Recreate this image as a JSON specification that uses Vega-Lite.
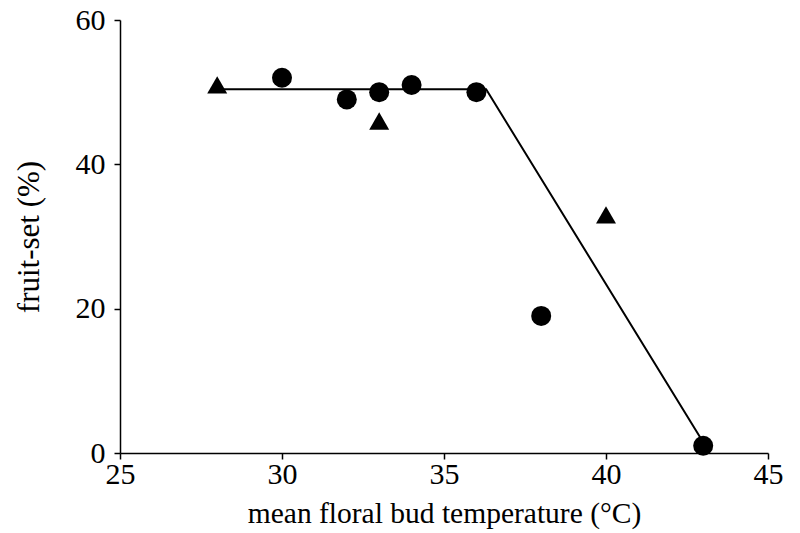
{
  "$schema": "https://vega.github.io/schema/vega-lite/v6.json",
  "width": 648,
  "height": 433,
  "autosize": {"type": "none"},
  "padding": {"left": 120, "top": 20, "right": 32, "bottom": 80},
  "background": "white",
  "config": {
    "view": {"stroke": null},
    "font": "Liberation Serif",
    "axis": {
      "grid": false,
      "domainColor": "black",
      "domainWidth": 1.5,
      "tickColor": "black",
      "tickWidth": 1.5,
      "tickSize": 6,
      "labelColor": "black",
      "labelFont": "Liberation Serif",
      "labelFontSize": 30,
      "labelFlush": false,
      "titleFont": "Liberation Serif",
      "titleFontSize": 29.5,
      "titleFontWeight": "normal",
      "titleColor": "black"
    }
  },
  "datasets": {
    "points": [
      {"temp": 28, "fruitset": 51, "group": "triangle"},
      {"temp": 30, "fruitset": 52, "group": "circle"},
      {"temp": 32, "fruitset": 49, "group": "circle"},
      {"temp": 33, "fruitset": 50, "group": "circle"},
      {"temp": 33, "fruitset": 46, "group": "triangle"},
      {"temp": 34, "fruitset": 51, "group": "circle"},
      {"temp": 36, "fruitset": 50, "group": "circle"},
      {"temp": 38, "fruitset": 19, "group": "circle"},
      {"temp": 40, "fruitset": 33, "group": "triangle"},
      {"temp": 43, "fruitset": 1, "group": "circle"}
    ],
    "fit": [
      {"temp": 28, "fruitset": 50.4},
      {"temp": 36.3, "fruitset": 50.4},
      {"temp": 43, "fruitset": 1.5}
    ]
  },
  "layer": [
    {
      "data": {"name": "fit"},
      "mark": {"type": "line", "color": "black", "strokeWidth": 2},
      "encoding": {
        "x": {"field": "temp", "type": "quantitative"},
        "y": {"field": "fruitset", "type": "quantitative"}
      }
    },
    {
      "data": {"name": "points"},
      "mark": {"type": "point", "filled": true, "color": "black", "opacity": 1, "size": 400},
      "encoding": {
        "x": {
          "field": "temp",
          "type": "quantitative",
          "scale": {"domain": [25, 45], "nice": false, "zero": false},
          "axis": {"values": [25, 30, 35, 40, 45], "title": "mean floral bud temperature (°C)", "labelPadding": 0, "titlePadding": 10}
        },
        "y": {
          "field": "fruitset",
          "type": "quantitative",
          "scale": {"domain": [0, 60], "nice": false},
          "axis": {"values": [0, 20, 40, 60], "title": "fruit-set (%)", "titleFontSize": 31, "labelPadding": 9, "titlePadding": 30}
        },
        "shape": {
          "field": "group",
          "type": "nominal",
          "scale": {"domain": ["circle", "triangle"], "range": ["circle", "triangle-up"]},
          "legend": null
        }
      }
    }
  ]
}
